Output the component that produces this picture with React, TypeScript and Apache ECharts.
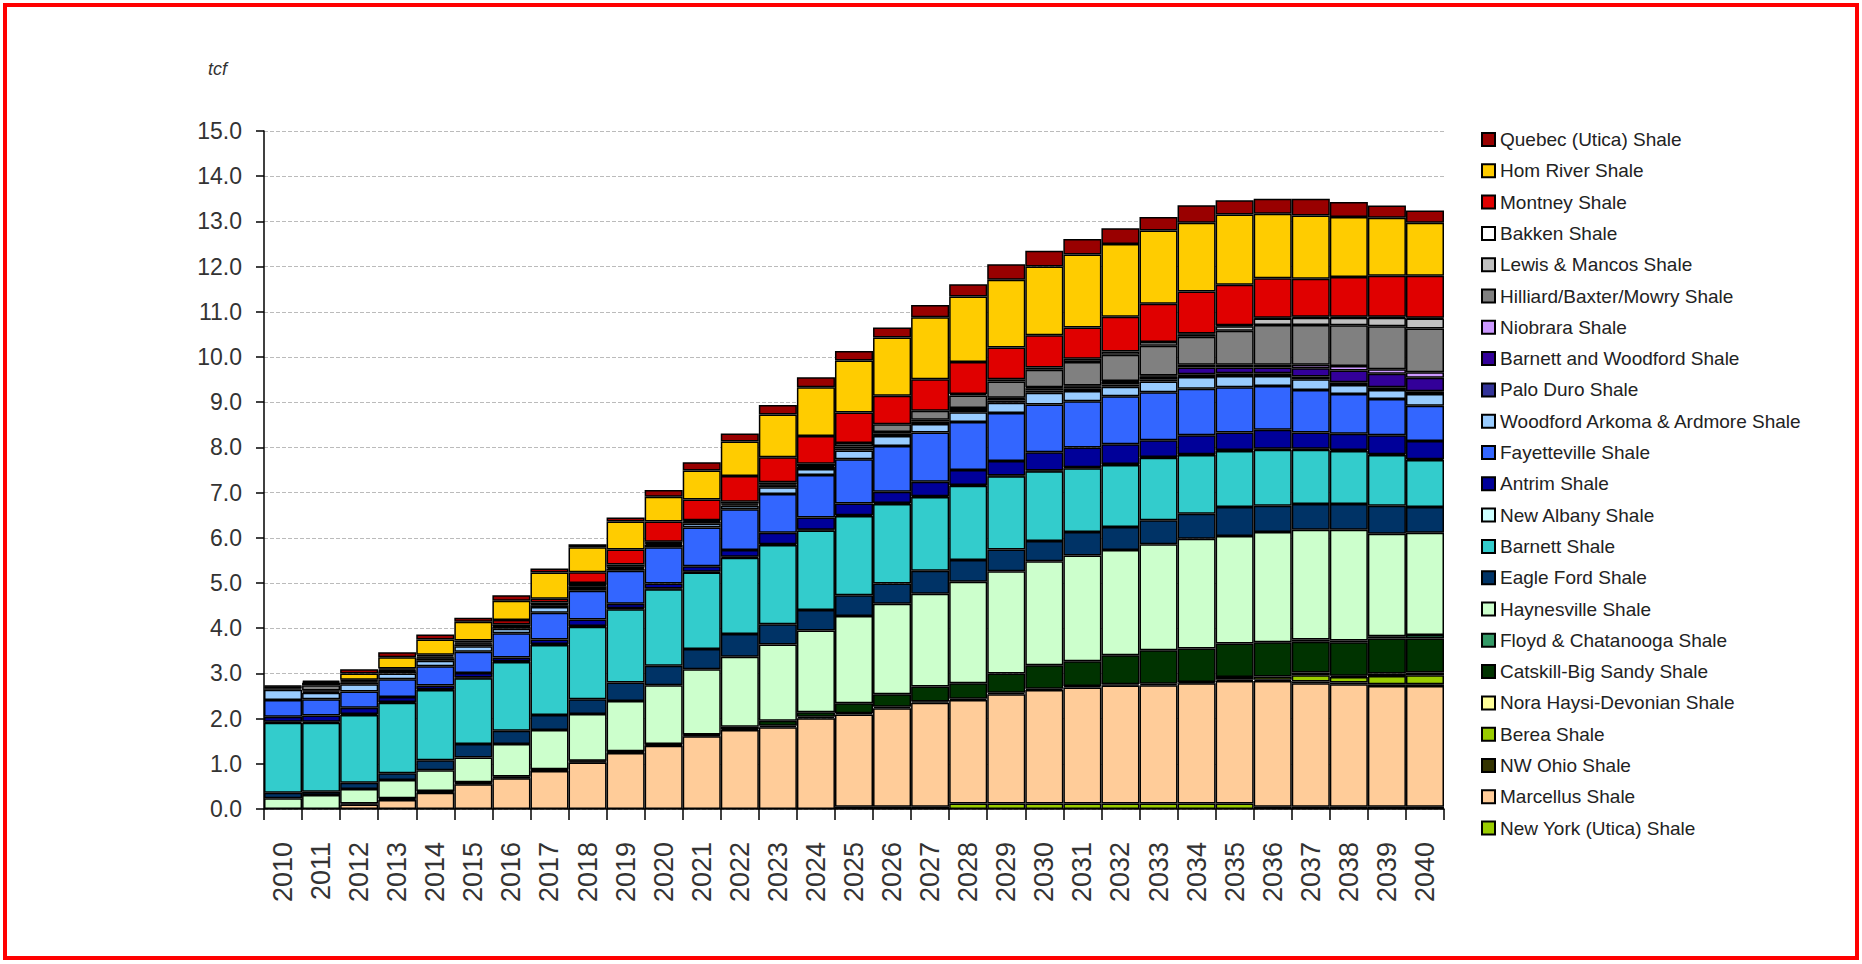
import React, { useEffect, useRef } from "react";
import * as echarts from "echarts";

const years = ["2010","2011","2012","2013","2014","2015","2016","2017","2018","2019","2020","2021","2022","2023","2024","2025","2026","2027","2028","2029","2030","2031","2032","2033","2034","2035","2036","2037","2038","2039","2040"];
const yTicks = [0, 15, 1];

const newYorkUtica = [0,0,0,0,0,0,0,0,0,0,0,0,0,0,0,0.05,0.05,0.05,0.12,0.12,0.12,0.12,0.12,0.12,0.12,0.12,0.05,0.05,0.05,0.05,0.05];
const marcellus = [0,0,0.1,0.2,0.36,0.55,0.68,0.84,1.03,1.24,1.4,1.61,1.75,1.81,2.01,2.04,2.18,2.3,2.29,2.42,2.51,2.57,2.61,2.62,2.66,2.71,2.78,2.73,2.71,2.67,2.67];
const nwOhio = [0,0,0.02,0.02,0.02,0.02,0.02,0.02,0.02,0.02,0.02,0.02,0.02,0.03,0.03,0.03,0.03,0.03,0.03,0.03,0.03,0.03,0.03,0.03,0.03,0.03,0.03,0.04,0.04,0.04,0.04];
const berea = [0,0,0,0,0,0,0,0,0,0,0,0,0,0,0,0,0,0,0,0,0,0,0,0,0,0.06,0.07,0.14,0.12,0.18,0.2];
const noraHaysi = [0,0,0,0,0,0,0,0,0,0,0,0,0,0,0,0,0,0,0,0,0,0,0,0,0,0,0,0.06,0.03,0.06,0.06];
const catskill = [0,0,0,0.02,0.02,0.02,0.02,0.02,0.02,0.02,0.02,0.02,0.05,0.11,0.1,0.22,0.28,0.33,0.34,0.43,0.52,0.55,0.64,0.74,0.74,0.74,0.76,0.68,0.74,0.77,0.75];
const floyd = [0,0,0,0,0,0,0,0,0,0,0,0,0,0,0,0,0,0,0,0,0,0,0,0,0,0,0,0.05,0.04,0.05,0.08];
const haynesville = [0.24,0.31,0.32,0.4,0.46,0.55,0.72,0.87,1.03,1.11,1.3,1.44,1.55,1.69,1.81,1.93,2.0,2.05,2.25,2.26,2.3,2.34,2.33,2.35,2.43,2.38,2.44,2.43,2.45,2.27,2.26];
const eagleFord = [0.12,0.07,0.14,0.15,0.22,0.3,0.29,0.33,0.33,0.41,0.43,0.45,0.5,0.45,0.45,0.46,0.45,0.51,0.48,0.48,0.45,0.52,0.51,0.53,0.55,0.64,0.58,0.57,0.57,0.62,0.57];
const barnett = [1.55,1.53,1.5,1.56,1.55,1.45,1.52,1.55,1.6,1.62,1.69,1.69,1.69,1.75,1.76,1.75,1.76,1.63,1.64,1.62,1.54,1.41,1.37,1.38,1.3,1.24,1.24,1.2,1.17,1.12,1.04];
const newAlbany = [0.02,0.02,0.02,0.02,0.02,0.02,0.02,0.02,0.02,0.02,0.02,0.02,0.02,0.02,0.02,0.02,0.02,0.02,0.02,0.02,0.02,0.02,0.02,0.02,0.02,0.02,0.02,0.02,0.02,0.02,0.02];
const antrim = [0.11,0.14,0.14,0.11,0.08,0.1,0.08,0.1,0.14,0.1,0.11,0.12,0.15,0.25,0.27,0.26,0.25,0.32,0.33,0.32,0.4,0.44,0.44,0.37,0.42,0.39,0.42,0.36,0.36,0.42,0.4];
const fayetteville = [0.37,0.36,0.36,0.39,0.43,0.47,0.54,0.59,0.64,0.73,0.8,0.86,0.9,0.86,0.94,0.98,1.01,1.09,1.06,1.06,1.06,1.02,1.06,1.06,1.03,1.0,0.97,0.94,0.88,0.8,0.78];
const woodfordArkoma = [0.23,0.14,0.16,0.13,0.12,0.12,0.1,0.13,0.06,0.04,0.05,0.08,0.08,0.15,0.13,0.19,0.22,0.19,0.22,0.23,0.26,0.23,0.21,0.24,0.26,0.25,0.22,0.24,0.2,0.2,0.26];
const paloDuro = [0.03,0.03,0.04,0.04,0.05,0.04,0.04,0.04,0.04,0.03,0.03,0.04,0.03,0.04,0.05,0.05,0.05,0.05,0.05,0.05,0.05,0.05,0.05,0.05,0.06,0.06,0.06,0.06,0.06,0.06,0.06];
const barnettWoodford = [0.02,0.02,0.02,0.02,0.02,0.02,0.02,0.02,0.02,0.02,0.02,0.02,0.02,0.02,0.02,0.04,0.04,0.04,0.04,0.04,0.05,0.05,0.06,0.06,0.15,0.13,0.13,0.18,0.26,0.3,0.3];
const niobrara = [0,0,0,0,0,0,0,0,0,0,0,0,0,0,0,0,0,0,0,0.02,0.02,0.02,0.02,0.02,0.06,0.06,0.06,0.08,0.1,0.1,0.12];
const hilliard = [0.02,0.12,0.02,0.02,0.03,0.03,0.04,0.04,0.05,0.05,0.02,0.02,0.04,0.05,0.05,0.08,0.17,0.2,0.28,0.36,0.39,0.52,0.58,0.66,0.62,0.75,0.88,0.88,0.9,0.95,0.97];
const lewisMancos = [0,0.05,0,0,0,0,0,0,0,0,0,0,0,0,0,0,0,0,0.03,0.05,0.05,0.07,0.07,0.08,0.05,0.1,0.14,0.16,0.17,0.19,0.22];
const bakken = [0,0,0,0,0,0,0,0,0,0,0,0,0,0,0,0,0,0,0,0,0,0,0,0,0.02,0.02,0.02,0.02,0.02,0.02,0.02];
const montney = [0,0,0.02,0.03,0.03,0.04,0.09,0.08,0.24,0.33,0.45,0.46,0.57,0.55,0.61,0.67,0.63,0.7,0.71,0.7,0.71,0.69,0.77,0.85,0.93,0.9,0.87,0.84,0.88,0.91,0.93];
const hornRiver = [0,0.02,0.14,0.25,0.34,0.41,0.43,0.58,0.55,0.62,0.55,0.64,0.76,0.95,1.08,1.15,1.29,1.37,1.45,1.5,1.52,1.62,1.61,1.62,1.52,1.55,1.43,1.4,1.33,1.28,1.17];
const quebecUtica = [0.02,0.03,0.09,0.11,0.11,0.09,0.12,0.09,0.07,0.09,0.15,0.18,0.18,0.21,0.22,0.21,0.22,0.27,0.27,0.34,0.35,0.34,0.35,0.3,0.39,0.32,0.33,0.37,0.33,0.27,0.27];

// bottom of stack first
const seriesDefs: [string, number[], string][] = [
  ["New York (Utica) Shale", newYorkUtica, "#99CC00"],
  ["Marcellus Shale", marcellus, "#FFCC99"],
  ["NW Ohio Shale", nwOhio, "#333300"],
  ["Berea Shale", berea, "#99CC00"],
  ["Nora Haysi-Devonian Shale", noraHaysi, "#FFFF99"],
  ["Catskill-Big Sandy Shale", catskill, "#003300"],
  ["Floyd & Chatanooga Shale", floyd, "#339966"],
  ["Haynesville Shale", haynesville, "#CCFFCC"],
  ["Eagle Ford Shale", eagleFord, "#003366"],
  ["Barnett Shale", barnett, "#33CCCC"],
  ["New Albany Shale", newAlbany, "#CCFFFF"],
  ["Antrim Shale", antrim, "#000099"],
  ["Fayetteville Shale", fayetteville, "#3366FF"],
  ["Woodford Arkoma & Ardmore Shale", woodfordArkoma, "#99CCFF"],
  ["Palo Duro Shale", paloDuro, "#333399"],
  ["Barnett and Woodford Shale", barnettWoodford, "#330099"],
  ["Niobrara Shale", niobrara, "#CC99FF"],
  ["Hilliard/Baxter/Mowry Shale", hilliard, "#808080"],
  ["Lewis & Mancos Shale", lewisMancos, "#C0C0C0"],
  ["Bakken Shale", bakken, "#FFFFFF"],
  ["Montney Shale", montney, "#E00000"],
  ["Hom River Shale", hornRiver, "#FFCC00"],
  ["Quebec (Utica) Shale", quebecUtica, "#990000"],
];

const FONT = "'Liberation Sans', Arial, sans-serif";

export default function App() {
  const ref = useRef<HTMLDivElement>(null);
  useEffect(() => {
    if (!ref.current) return;
    const chart = echarts.init(ref.current, null, { renderer: "svg" });
    const series = seriesDefs.map(([name, data, color]) => ({
      name,
      type: "bar",
      stack: "total",
      barCategoryGap: "0%",
      data: data.map((v) => (v > 0 ? v : null)),
      itemStyle: { color, borderColor: "#000", borderWidth: 1.5 },
      emphasis: { disabled: true },
    }));
    chart.setOption({
      animation: false,
      backgroundColor: "#fff",
      grid: { left: 264, right: 418, top: 131, bottom: 155 },
      legend: {
        orient: "vertical",
        left: 1476,
        top: 125,
        icon: "rect",
        itemWidth: 13,
        itemHeight: 13,
        itemGap: 12.3,
        data: seriesDefs.map((d) => d[0]).reverse(),
        textStyle: { fontFamily: FONT, fontSize: 19, color: "#222", lineHeight: 13 },
        selectedMode: false,
      },
      xAxis: {
        type: "category",
        data: years,
        axisLine: { lineStyle: { color: "#000", width: 1.5 } },
        axisTick: { show: true, length: 11, lineStyle: { color: "#000", width: 1.5 } },
        axisLabel: { rotate: 90, margin: 33, fontFamily: FONT, fontSize: 27, color: "#333" },
      },
      yAxis: {
        type: "value",
        min: yTicks[0],
        max: yTicks[1],
        interval: yTicks[2],
        axisLine: { show: true, lineStyle: { color: "#000", width: 1.5 } },
        axisTick: { show: true, length: 8, lineStyle: { color: "#000", width: 1.5 } },
        axisLabel: {
          margin: 22,
          fontFamily: FONT,
          fontSize: 23,
          color: "#333",
          formatter: (v: number) => v.toFixed(1),
        },
        splitLine: { show: true, lineStyle: { color: "#bbb", type: "dashed", width: 1 } },
      },
      graphic: [
        {
          type: "rect",
          shape: { x: 5, y: 5, width: 1852, height: 953 },
          style: { fill: "none", stroke: "#ff0000", lineWidth: 4 },
          silent: true,
        },
        {
          type: "text",
          left: 208,
          top: 60,
          style: { text: "tcf", fontFamily: FONT, fontSize: 18, fontStyle: "italic", fill: "#333" },
        },
      ],
      series,
    });
    return () => chart.dispose();
  }, []);
  return (
    <div
      ref={ref}
      style={{ position: "fixed", left: 0, top: 0, width: 1862, height: 964 }}
    />
  );
}
